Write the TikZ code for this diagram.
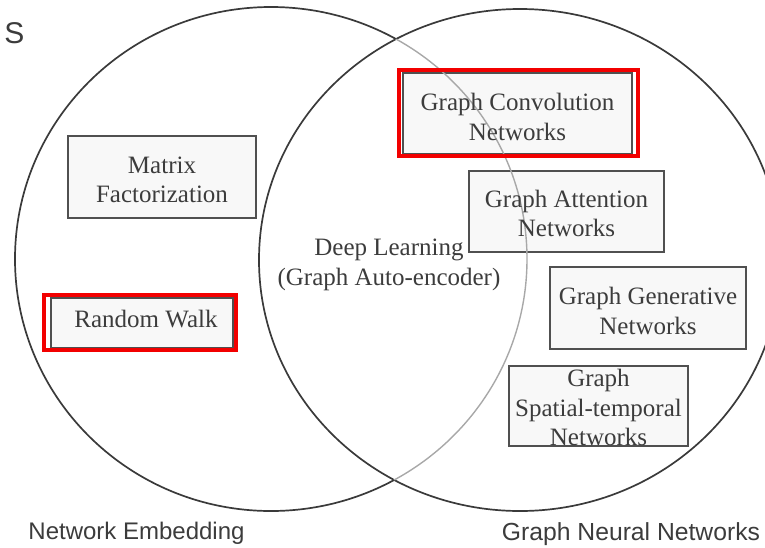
\documentclass[tikz,border=0pt]{standalone}
\usepackage{fontspec}
\setmainfont{Liberation Serif}
\newfontfamily\labelsans{Liberation Sans}
\definecolor{ringdark}{HTML}{3A3A3A}
\definecolor{ringlight}{HTML}{A8A8A8}
\definecolor{boxline}{HTML}{505050}
\definecolor{boxfill}{HTML}{F8F8F8}
\definecolor{txtgray}{HTML}{3C3C3C}
\definecolor{hlred}{HTML}{F20000}
\begin{document}
\begin{tikzpicture}[x=1pt,y=-1pt,
  ring/.style={draw=ringdark, line width=1.7pt},
  innerarc/.style={draw=ringlight, line width=1.4pt},
  catbox/.style={draw=boxline, line width=1.8pt, fill=boxfill, inner sep=0pt, anchor=center},
  redframe/.style={draw=hlred, line width=4pt, inner sep=0pt, anchor=center},
  boxtext/.style={text=txtgray, font=\fontsize{25}{29.5}\selectfont, align=center, inner sep=0pt, anchor=center},
  setlabel/.style={text=txtgray, font=\labelsans\fontsize{24}{28}\selectfont, inner sep=0pt, anchor=base}]
\useasboundingbox (0,0) rectangle (765,547);
\clip (0,0) rectangle (765,547);

% the two sets
\draw[ring] (520,260) ellipse [x radius=261, y radius=251];
\begin{scope}[even odd rule]
  \clip (-10,-10) rectangle (775,557) (520,260) ellipse [x radius=261, y radius=251];
  \draw[ring] (271,259) ellipse [x radius=256, y radius=252];
\end{scope}

% category boxes
\node[catbox, minimum width=188pt, minimum height=82pt] (mf) at (162,177) {};
\node[catbox, minimum width=182pt, minimum height=50pt] (rw) at (142,323) {};
\node[catbox, minimum width=229pt, minimum height=81pt] (gcn) at (517.5,113.5) {};
\node[catbox, minimum width=195pt, minimum height=81pt] (gat) at (566.5,211.5) {};
\node[catbox, minimum width=196pt, minimum height=82pt] (ggn) at (648,308) {};
\node[catbox, minimum width=179pt, minimum height=80pt] (gst) at (598.5,406) {};

% part of the first set lying inside the second
\begin{scope}
  \clip (520,260) ellipse [x radius=261, y radius=251];
  \draw[innerarc] (271,259) ellipse [x radius=256, y radius=252];
\end{scope}

% highlighted categories
\node[redframe, minimum width=239pt, minimum height=86pt] (gcnmark) at (518.5,113) {};
\node[redframe, minimum width=192pt, minimum height=55pt] (rwmark) at (140,322.5) {};

% texts
\node[boxtext] (mftext) at (162,180) {Matrix\\Factorization};
\node[boxtext] (rwtext) at (146,319.5) {Random Walk};
\node[boxtext] (gcntext) at (517.5,117) {Graph Convolution\\Networks};
\node[boxtext] (gattext) at (566.5,213.5) {Graph Attention\\Networks};
\node[boxtext] (ggntext) at (648,311) {Graph Generative\\Networks};
\node[boxtext] (gsttext) at (598.5,407.5) {Graph\\Spatial-temporal\\Networks};
\node[boxtext] (dltext) at (389,265) {Deep Learning\\(Graph Auto-encoder)};

\node[setlabel] (nelabel) at (136.5,539) {Network Embedding};
\node[setlabel, font=\labelsans\fontsize{24.7}{28}\selectfont] (gnnlabel) at (631,540) {Graph Neural Networks};
\node[text=txtgray, font=\labelsans\fontsize{30}{34}\selectfont, inner sep=0pt, anchor=base] (corner) at (14.5,43) {S};
\end{tikzpicture}
\end{document}
